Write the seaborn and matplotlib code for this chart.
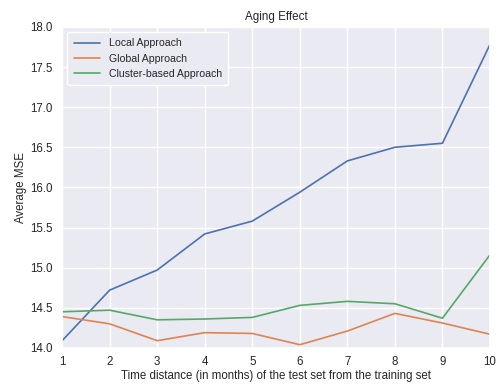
import pandas as pd
import matplotlib
matplotlib.use("Agg")
import matplotlib.pyplot as plt
import seaborn as sns

# data
months = [1, 2, 3, 4, 5, 6, 7, 8, 9, 10]
local_mse = [14.09, 14.72, 14.97, 15.42, 15.58, 15.94, 16.33, 16.50, 16.55, 17.78]
global_mse = [14.39, 14.30, 14.09, 14.19, 14.18, 14.04, 14.21, 14.43, 14.31, 14.17]
cluster_mse = [14.45, 14.47, 14.35, 14.36, 14.38, 14.53, 14.58, 14.55, 14.37, 15.16]

df = pd.DataFrame({
    "Month": months * 3,
    "MSE": local_mse + global_mse + cluster_mse,
    "Approach": ["Local Approach"] * 10 + ["Global Approach"] * 10 + ["Cluster-based Approach"] * 10,
})

sns.set_theme(style="darkgrid", palette="deep")
plt.rcParams["font.family"] = ["Liberation Sans", "DejaVu Sans"]

fig, ax = plt.subplots(figsize=(5.01, 3.84), dpi=100)
fig.subplots_adjust(left=0.124, right=0.978, top=0.93, bottom=0.094)

sns.lineplot(data=df, x="Month", y="MSE", hue="Approach", ax=ax, linewidth=1.2)

ax.set_xlim(1, 10)
ax.set_ylim(14.0, 18.0)
ax.set_xticks(months)
ax.set_yticks([14.0, 14.5, 15.0, 15.5, 16.0, 16.5, 17.0, 17.5, 18.0])
ax.tick_params(axis="y", labelsize=8.3, pad=1)
ax.tick_params(axis="x", labelsize=8.3, pad=0)
ax.set_title("Aging Effect", fontsize=8.4, pad=5)
ax.set_xlabel("Time distance (in months) of the test set from the training set", fontsize=8.3, labelpad=1)
ax.set_ylabel("Average MSE", fontsize=8.3, labelpad=2)

leg = ax.legend(loc="upper left", fontsize=7.6, frameon=True, facecolor="#EAEAF2",
                edgecolor="white", framealpha=1, handlelength=2.5, borderpad=0.6)

plt.savefig("out.png", dpi=100)
